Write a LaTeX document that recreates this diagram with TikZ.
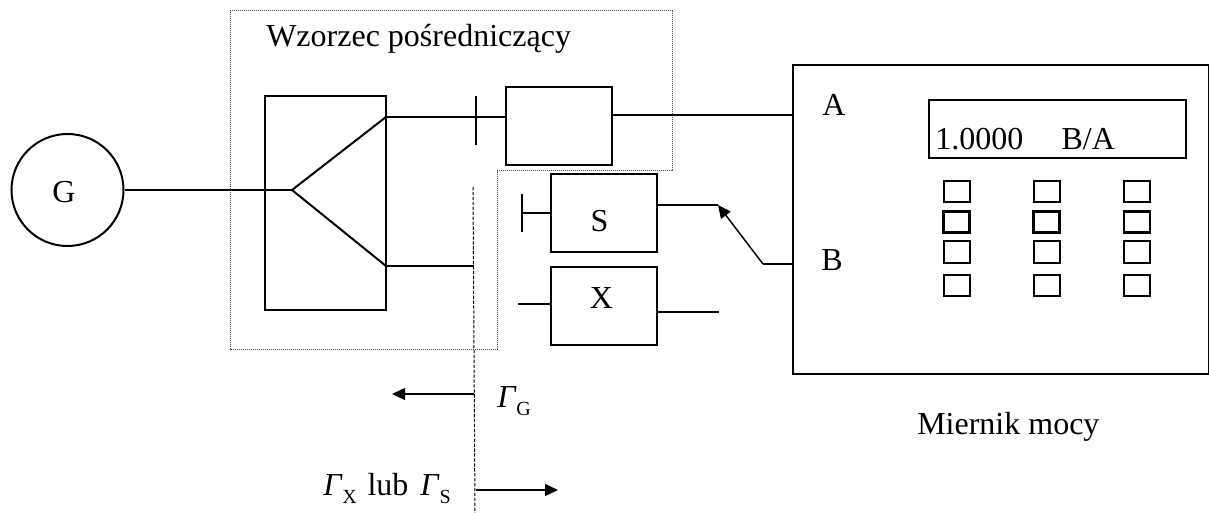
\documentclass[tikz,border=0pt]{standalone}
\usepackage{fontspec}
\setmainfont{Liberation Serif}
\usepackage{tikz}
\usetikzlibrary{arrows.meta, positioning, calc}
\newcommand{\gammasub}[1]{\textit{Γ}\raisebox{-6.5pt}{\fontsize{15}{15}\selectfont #1}}

\begin{document}
\begin{tikzpicture}[
    x=0.75pt, y=-0.75pt,
    lbl/.style={inner sep=0pt, font=\fontsize{24}{28}\selectfont},
    gen/.style={draw, circle, line width=1.5pt, minimum size=84pt, inner sep=0pt},
    box/.style={draw, line width=1.5pt, inner sep=0pt, minimum width=79.5pt, minimum height=58.5pt},
    btn/.style={draw, inner sep=0pt, minimum width=19.5pt, minimum height=16pt},
    wire/.style={line width=1.5pt},
    thin wire/.style={line width=1.1pt},
    arr/.style={-{Triangle[length=9.75pt, width=9pt]}, line width=1.1pt},
    frame/.style={dash pattern=on 0.8pt off 0.7pt, line width=0.75pt, black!70},
    plane/.style={dash pattern=on 2.5pt off 1.2pt, line width=0.75pt}
]
\useasboundingbox (0,0) rectangle (1209,513);

\node[gen]  (g)      at (67.5,190)    {};
\node[box, minimum width=90.75pt, minimum height=160.5pt] (split) at (325.5,203) {};
\node[box]  (atten)  at (559,126)     {};
\node[box]  (s)      at (604,213)     {};
\node[box]  (x)      at (604,305.5)   {};
\node[box, minimum width=312pt, minimum height=231.75pt] (meter) at (1000.5,219.5) {};
\node[draw, line width=1.5pt, minimum width=192.75pt, minimum height=43pt, inner sep=0pt] (display) at (1057.5,129) {};

\node[lbl, anchor=base]      (glabel)  at (64,203)    {G};
\node[lbl, anchor=base]      (slabel)  at (599.5,232) {S};
\node[lbl, anchor=base]      (xlabel)  at (601.5,308) {X};
\node[lbl, anchor=base west] (title)   at (266,46.5)  {Wzorzec pośredniczący};
\node[lbl, anchor=base west] (porta)   at (822,116)   {A};
\node[lbl, anchor=base west] (portb)   at (821,270)   {B};
\node[lbl, anchor=base west] (readout) at (935,150)   {1.0000\hspace{1.2em}B/A};
\node[lbl, anchor=base west] (name)    at (917,434)   {Miernik mocy};
\node[lbl, anchor=base west] (gammag)  at (497,407)   {\gammasub{G}};
\node[lbl, anchor=base west] (gammax)  at (323,495)   {\gammasub{X}\hspace{2pt} lub\hspace{3pt} \gammasub{S}};

\foreach \colx/\col in {956.5/1, 1046.5/2, 1137/3} {
    \foreach \rowy/\row/\rowlw in {191.3/1/1.5, 222/2/2.2, 252/3/1.5, 285.3/4/1.5} {
        \node[btn, line width=\rowlw pt] (b\col\row) at (\colx,\rowy) {};
    }
}

\coordinate (fork)  at (292,190);
\coordinate (up)    at (386,117);
\coordinate (down)  at (386,266);
\coordinate (short) at (476,117);
\coordinate (bend)  at (763,264);
\coordinate (tip)   at (718,205);
\coordinate (sstub) at (521.5,213);
\coordinate (xin)   at (518,304);
\coordinate (xout)  at (719,311.5);
\coordinate (ptop)  at (473,187);
\coordinate (pbot)  at (475,513);

\draw[frame] (230,11) -- (672,11) -- (672,171) -- (497,171) -- (497,349) -- (230,349) -- cycle;
\draw[plane] (ptop) -- (pbot);

\draw[wire] (g.east) -- (fork);
\draw[wire] (fork) -- (up);
\draw[wire] (fork) -- (down);
\draw[wire] (up) -- (atten.west |- up);
\draw[wire] ($(short)+(0,-21)$) -- ($(short)+(0,28)$);
\draw[wire] (atten.east |- 0,115) -- (meter.west |- 0,115);
\draw[thin wire] (down) -- (473.5,266);

\draw[wire] (s.east |- tip) -- (tip);
\draw[arr] (bend) -- (tip);
\draw[wire] (bend) -- (meter.west |- bend);
\draw[wire] ($(sstub)+(0,-19)$) -- ($(sstub)+(0,19)$);
\draw[wire] (sstub) -- (s.west |- sstub);
\draw[thin wire] (xin) -- (x.west |- xin);
\draw[wire] (x.east |- xout) -- (xout);

\draw[arr] (474,394) -- (392,394);
\draw[arr] (476,490) -- (558,490);
\end{tikzpicture}
\end{document}
